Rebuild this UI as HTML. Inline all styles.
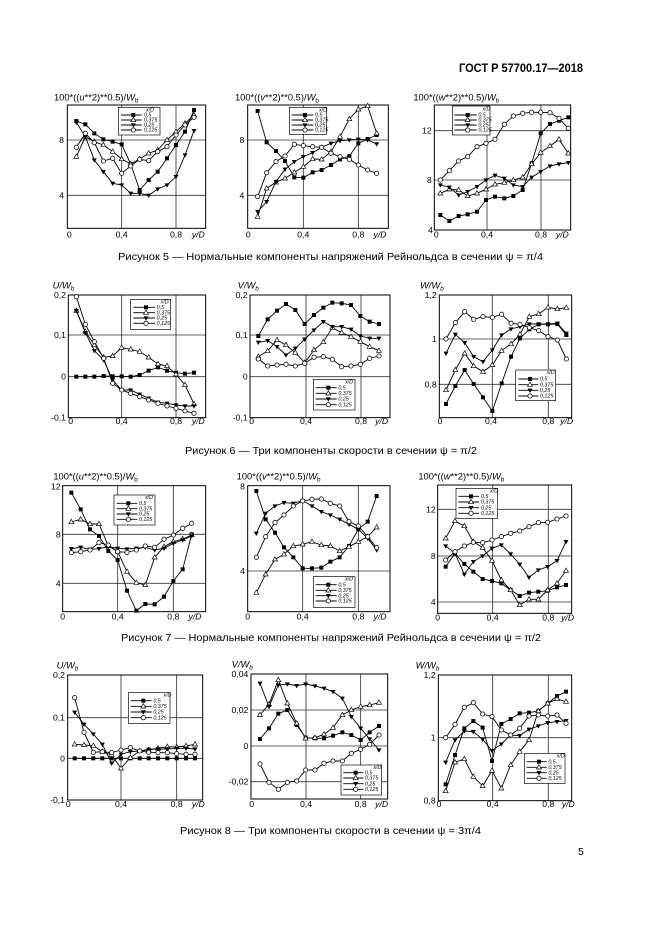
<!DOCTYPE html>
<html><head><meta charset="utf-8">
<style>
html,body{margin:0;padding:0;background:#fff;}
svg{display:block;}
text{font-family:"Liberation Sans",Arial,sans-serif;fill:#000;}
.t{font-size:26px;}
.ti{font-size:28px;}
.lg{font-size:16px;font-style:italic;}
.it{font-style:italic;}
.g{fill:none;stroke:#333;stroke-width:2.5;}
.b{fill:none;stroke:#000;stroke-width:3;}
.s{fill:none;stroke:#000;stroke-width:2.7;}
.lb{fill:#fff;stroke:#000;stroke-width:2;}
.ms{marker-start:url(#ms);marker-mid:url(#ms);marker-end:url(#ms);}
.mt{marker-start:url(#mt);marker-mid:url(#mt);marker-end:url(#mt);}
.mi{marker-start:url(#mi);marker-mid:url(#mi);marker-end:url(#mi);}
.mc{marker-start:url(#mc);marker-mid:url(#mc);marker-end:url(#mc);}
.ls{marker-mid:url(#ms);}
.lt{marker-mid:url(#mt);}
.li{marker-mid:url(#mi);}
.lc{marker-mid:url(#mc);}
</style></head>
<body>
<svg width="661" height="935" viewBox="0 0 661 935" xmlns="http://www.w3.org/2000/svg">
<defs>
<marker id="ms" markerUnits="userSpaceOnUse" markerWidth="14" markerHeight="14" refX="7" refY="7" overflow="visible"><rect x="1" y="1" width="12" height="12" fill="#000"/></marker>
<marker id="mt" markerUnits="userSpaceOnUse" markerWidth="14" markerHeight="14" refX="7" refY="8" overflow="visible"><path d="M7,0 L14.5,13 L-0.5,13 Z" fill="#fff" stroke="#000" stroke-width="2"/></marker>
<marker id="mi" markerUnits="userSpaceOnUse" markerWidth="14" markerHeight="14" refX="7" refY="6" overflow="visible"><path d="M-0.5,1 L14.5,1 L7,14 Z" fill="#000"/></marker>
<marker id="mc" markerUnits="userSpaceOnUse" markerWidth="14" markerHeight="14" refX="7" refY="7" overflow="visible"><circle cx="7" cy="7" r="6.5" fill="#fff" stroke="#000" stroke-width="2.2"/></marker>
</defs>
<rect width="661" height="935" fill="#fff"/>

<text x="583" y="72" text-anchor="end" font-weight="bold" font-size="11.5" textLength="124" lengthAdjust="spacingAndGlyphs">ГОСТ Р 57700.17—2018</text>

<!-- ================= Chart 1 ================= -->
<g transform="translate(40 90) scale(0.33333)">
<path class="g" d="M82 150H497M82 316H497M245 45V415M408 45V415"/>
<rect class="b" x="82" y="45" width="415" height="370"/>
<polyline class="s ms" points="109,93 136,103 163,130 190,148 218,155 245,163 272,222 299,300 326,270 353,245 381,205 408,165 435,125 462,60"/>
<polyline class="s mt" points="109,200 136,140 163,155 190,165 218,185 245,207 272,222 299,207 326,190 353,180 381,150 408,125 435,100 462,75"/>
<polyline class="s mi" points="109,97 136,140 163,210 190,245 218,280 245,285 272,310 299,310 326,316 353,297 381,285 408,260 435,195 462,122"/>
<polyline class="s mc" points="109,172 136,130 163,158 190,213 218,205 245,250 272,228 299,208 326,212 353,185 381,170 408,135 435,105 462,82"/>
<rect class="lb" x="235" y="52" width="125" height="83"/>
<text class="lg" x="318" y="64">x/D</text>
<polyline class="s ls" points="243,75 280,75 305,75"/><text class="lg" x="312" y="80">0,5</text>
<polyline class="s lt" points="243,90 280,90 305,90"/><text class="lg" x="312" y="95">0,375</text>
<polyline class="s li" points="243,105 280,105 305,105"/><text class="lg" x="312" y="110">0,25</text>
<polyline class="s lc" points="243,120 280,120 305,120"/><text class="lg" x="312" y="125">0,125</text>
<text class="ti" x="42" y="32">100*((<tspan class="it">u</tspan>**2)**0.5)/<tspan class="it">W</tspan><tspan font-size="19" dy="6">b</tspan></text>
<text class="t" x="72" y="159" text-anchor="end">8</text>
<text class="t" x="72" y="325" text-anchor="end">4</text>
<text class="t" x="88" y="442" text-anchor="middle">0</text>
<text class="t" x="245" y="442" text-anchor="middle">0,4</text>
<text class="t" x="408" y="442" text-anchor="middle">0,8</text>
<text class="t it" x="475" y="442" text-anchor="middle">y/D</text>
</g>

<!-- ================= Chart 2 ================= -->
<g transform="translate(225 90) scale(0.33333)">
<path class="g" d="M68 150H490M68 316H490M235 45V415M400 45V415"/>
<rect class="b" x="68" y="45" width="422" height="370"/>
<polyline class="s ms" points="98,63 125,157 153,183 180,213 208,262 235,263 263,247 290,240 318,225 345,208 373,198 400,160 428,147 455,135"/>
<polyline class="s mt" points="98,380 125,295 153,277 180,265 208,247 235,230 263,207 290,208 318,185 345,140 373,87 400,58 428,48 455,130"/>
<polyline class="s mi" points="98,365 125,335 153,275 180,238 208,215 235,200 263,188 290,172 318,160 345,152 373,150 400,148 428,150 455,162"/>
<polyline class="s mc" points="98,320 125,248 153,215 180,198 208,163 235,167 263,170 290,172 318,190 345,200 373,208 400,225 428,240 455,250"/>
<rect class="lb" x="193" y="52" width="112" height="81"/>
<text class="lg" x="282" y="64">x/D</text>
<polyline class="s ls" points="200,75 240,75 265,75"/><text class="lg" x="270" y="80">0,5</text>
<polyline class="s lt" points="200,90 240,90 265,90"/><text class="lg" x="270" y="95">0,375</text>
<polyline class="s li" points="200,105 240,105 265,105"/><text class="lg" x="270" y="110">0,25</text>
<polyline class="s lc" points="200,120 240,120 265,120"/><text class="lg" x="270" y="125">0,125</text>
<text class="ti" x="30" y="32">100*((<tspan class="it">v</tspan>**2)**0.5)/<tspan class="it">W</tspan><tspan font-size="19" dy="6">b</tspan></text>
<text class="t" x="58" y="159" text-anchor="end">8</text>
<text class="t" x="58" y="325" text-anchor="end">4</text>
<text class="t" x="70" y="442" text-anchor="middle">0</text>
<text class="t" x="235" y="442" text-anchor="middle">0,4</text>
<text class="t" x="400" y="442" text-anchor="middle">0,8</text>
<text class="t it" x="465" y="442" text-anchor="middle">y/D</text>
</g>

<!-- ================= Chart 3 ================= -->
<g transform="translate(405 90) scale(0.33333)">
<path class="g" d="M88 122H497M88 270H497M246 45V420M408 45V420"/>
<rect class="b" x="88" y="45" width="409" height="375"/>
<polyline class="s ms" points="106,375 133,393 161,378 188,373 216,365 243,330 270,320 298,325 325,318 353,300 380,220 407,130 435,102 462,92 490,82"/>
<polyline class="s mt" points="106,310 133,298 161,300 188,318 216,310 243,298 270,283 298,278 325,270 353,262 380,222 407,188 435,168 462,148 490,190"/>
<polyline class="s mi" points="106,285 133,292 161,315 188,305 216,290 243,270 270,256 298,265 325,285 353,290 380,262 407,245 435,228 462,222 490,218"/>
<polyline class="s mc" points="106,270 133,242 161,213 188,200 216,170 243,160 270,148 298,103 325,78 353,70 380,67 407,67 435,68 462,85 490,115"/>
<rect class="lb" x="142" y="48" width="113" height="87"/>
<text class="lg" x="232" y="62">x/D</text>
<polyline class="s ls" points="148,75 188,75 215,75"/><text class="lg" x="220" y="80">0,5</text>
<polyline class="s lt" points="148,90 188,90 215,90"/><text class="lg" x="220" y="95">0,375</text>
<polyline class="s li" points="148,105 188,105 215,105"/><text class="lg" x="220" y="110">0,25</text>
<polyline class="s lc" points="148,120 188,120 215,120"/><text class="lg" x="220" y="125">0,125</text>
<text class="ti" x="25" y="32">100*((<tspan class="it">w</tspan>**2)**0.5)/<tspan class="it">W</tspan><tspan font-size="19" dy="6">b</tspan></text>
<text class="t" x="80" y="131" text-anchor="end">12</text>
<text class="t" x="80" y="279" text-anchor="end">8</text>
<text class="t" x="84" y="429" text-anchor="end">4</text>
<text class="t" x="94" y="442" text-anchor="middle">0</text>
<text class="t" x="246" y="442" text-anchor="middle">0,4</text>
<text class="t" x="408" y="442" text-anchor="middle">0,8</text>
<text class="t it" x="472" y="442" text-anchor="middle">y/D</text>
</g>

<text x="118" y="260" font-size="10.5" textLength="425" lengthAdjust="spacingAndGlyphs">Рисунок 5 — Нормальные компоненты напряжений Рейнольдса в сечении ψ = π/4</text>

<!-- ================= Chart 4 ================= -->
<g transform="translate(40 280) scale(0.33333)">
<path class="g" d="M85 165H497M85 290H497M245 45V413M408 45V413"/>
<rect class="b" x="85" y="45" width="412" height="368"/>
<polyline class="s ms" points="109,290 136,290 163,290 191,288 218,289 245,289 272,290 299,285 326,272 354,262 381,272 408,278 435,281 462,278"/>
<polyline class="s mt" points="109,92 136,155 163,195 191,232 218,228 245,203 272,208 299,215 326,232 354,252 381,258 408,283 435,315 462,372"/>
<polyline class="s mi" points="109,92 136,158 163,212 191,240 218,300 245,330 272,330 299,343 326,355 354,367 381,370 408,375 435,378 462,378"/>
<polyline class="s mc" points="109,50 136,133 163,185 191,235 218,310 245,330 272,340 299,350 326,360 354,370 381,378 408,385 435,393 462,400"/>
<rect class="lb" x="272" y="58" width="120" height="90"/>
<text class="lg" x="362" y="70">x/D</text>
<polyline class="s ls" points="280,82 318,82 345,82"/><text class="lg" x="350" y="87">0,5</text>
<polyline class="s lt" points="280,98 318,98 345,98"/><text class="lg" x="350" y="103">0,375</text>
<polyline class="s li" points="280,114 318,114 345,114"/><text class="lg" x="350" y="119">0,25</text>
<polyline class="s lc" points="280,130 318,130 345,130"/><text class="lg" x="350" y="135">0,125</text>
<text class="ti it" x="38" y="25">U/W<tspan font-size="19" dy="6">b</tspan></text>
<text class="t" x="78" y="54" text-anchor="end">0,2</text>
<text class="t" x="78" y="174" text-anchor="end">0,1</text>
<text class="t" x="78" y="299" text-anchor="end">0</text>
<text class="t" x="78" y="422" text-anchor="end">-0,1</text>
<text class="t" x="92" y="432" text-anchor="middle">0</text>
<text class="t" x="245" y="432" text-anchor="middle">0,4</text>
<text class="t" x="408" y="432" text-anchor="middle">0,8</text>
<text class="t it" x="475" y="432" text-anchor="middle">y/D</text>
</g>

<!-- ================= Chart 5 ================= -->
<g transform="translate(225 280) scale(0.33333)">
<path class="g" d="M75 165H495M75 290H495M243 45V413M408 45V413"/>
<rect class="b" x="75" y="45" width="420" height="368"/>
<polyline class="s ms" points="100,168 128,118 156,92 183,72 211,90 239,132 267,105 295,83 322,68 350,70 378,75 406,108 434,125 462,132"/>
<polyline class="s mt" points="100,230 128,213 156,180 183,195 211,218 239,248 267,210 295,186 322,143 350,158 378,170 406,185 434,200 462,212"/>
<polyline class="s mi" points="100,187 128,182 156,200 183,225 211,205 239,178 267,150 295,125 322,140 350,140 378,148 406,168 434,175 462,175"/>
<polyline class="s mc" points="100,237 128,258 156,255 183,253 211,258 239,250 267,232 295,230 322,238 350,260 378,258 406,253 434,235 462,228"/>
<rect class="lb" x="265" y="298" width="125" height="92"/>
<text class="lg" x="360" y="310">x/D</text>
<polyline class="s ls" points="272,323 310,323 335,323"/><text class="lg" x="340" y="328">0,5</text>
<polyline class="s lt" points="272,340 310,340 335,340"/><text class="lg" x="340" y="345">0,375</text>
<polyline class="s li" points="272,357 310,357 335,357"/><text class="lg" x="340" y="362">0,25</text>
<polyline class="s lc" points="272,374 310,374 335,374"/><text class="lg" x="340" y="379">0,125</text>
<text class="ti it" x="38" y="25">V/W<tspan font-size="19" dy="6">b</tspan></text>
<text class="t" x="68" y="54" text-anchor="end">0,2</text>
<text class="t" x="68" y="174" text-anchor="end">0,1</text>
<text class="t" x="68" y="299" text-anchor="end">0</text>
<text class="t" x="68" y="422" text-anchor="end">-0,1</text>
<text class="t" x="80" y="432" text-anchor="middle">0</text>
<text class="t" x="243" y="432" text-anchor="middle">0,4</text>
<text class="t" x="408" y="432" text-anchor="middle">0,8</text>
<text class="t it" x="470" y="432" text-anchor="middle">y/D</text>
</g>

<!-- ================= Chart 6 ================= -->
<g transform="translate(405 280) scale(0.33333)">
<path class="g" d="M103 177H500M103 313H500M262 45V413M430 45V413"/>
<rect class="b" x="103" y="45" width="397" height="368"/>
<polyline class="s ms" points="123,372 151,318 179,270 206,312 234,352 262,393 290,310 318,230 345,175 373,148 401,133 429,133 457,132 484,165"/>
<polyline class="s mt" points="123,330 151,270 179,220 206,258 234,275 262,255 290,212 318,192 345,163 373,110 401,102 429,82 457,87 484,83"/>
<polyline class="s mi" points="123,220 151,163 179,188 206,230 234,245 262,210 290,165 318,147 345,140 373,132 401,132 429,132 457,130 484,160"/>
<polyline class="s mc" points="123,177 151,128 179,95 206,118 234,110 262,112 290,103 318,130 345,133 373,143 401,152 429,170 457,180 484,237"/>
<rect class="lb" x="332" y="270" width="120" height="92"/>
<text class="lg" x="425" y="282">x/D</text>
<polyline class="s ls" points="340,297 375,297 400,297"/><text class="lg" x="405" y="302">0,5</text>
<polyline class="s lt" points="340,314 375,314 400,314"/><text class="lg" x="405" y="319">0,375</text>
<polyline class="s li" points="340,331 375,331 400,331"/><text class="lg" x="405" y="336">0,25</text>
<polyline class="s lc" points="340,348 375,348 400,348"/><text class="lg" x="405" y="353">0,125</text>
<text class="ti it" x="45" y="25">W/W<tspan font-size="19" dy="6">b</tspan></text>
<text class="t" x="95" y="54" text-anchor="end">1,2</text>
<text class="t" x="95" y="186" text-anchor="end">1</text>
<text class="t" x="95" y="322" text-anchor="end">0,8</text>
<text class="t" x="105" y="432" text-anchor="middle">0</text>
<text class="t" x="258" y="432" text-anchor="middle">0,4</text>
<text class="t" x="430" y="432" text-anchor="middle">0,8</text>
<text class="t it" x="485" y="432" text-anchor="middle">y/D</text>
</g>

<text x="185" y="454" font-size="10.5" textLength="292" lengthAdjust="spacingAndGlyphs">Рисунок 6 — Три компоненты скорости в сечении ψ = π/2</text>

<!-- ================= Chart 7 ================= -->
<g transform="translate(40 470) scale(0.33333)">
<path class="g" d="M68 193H497M68 340H497M233 47V425M400 47V425"/>
<rect class="b" x="68" y="47" width="429" height="378"/>
<polyline class="s ms" points="94,68 122,118 150,178 177,198 205,243 233,270 261,362 289,422 316,402 344,403 372,380 400,333 428,298 455,193"/>
<polyline class="s mt" points="94,156 122,148 150,162 177,162 205,228 233,245 261,305 289,338 316,345 344,262 372,230 400,215 428,207 455,195"/>
<polyline class="s mi" points="94,236 122,232 150,238 177,236 205,230 233,235 261,237 289,235 316,232 344,240 372,235 400,220 428,210 455,198"/>
<polyline class="s mc" points="94,248 122,245 150,240 177,218 205,225 233,245 261,247 289,240 316,228 344,232 372,208 400,195 428,175 455,160"/>
<rect class="lb" x="222" y="75" width="123" height="90"/>
<text class="lg" x="315" y="87">x/D</text>
<polyline class="s ls" points="230,100 265,100 292,100"/><text class="lg" x="297" y="105">0,5</text>
<polyline class="s lt" points="230,116 265,116 292,116"/><text class="lg" x="297" y="121">0,375</text>
<polyline class="s li" points="230,132 265,132 292,132"/><text class="lg" x="297" y="137">0,25</text>
<polyline class="s lc" points="230,148 265,148 292,148"/><text class="lg" x="297" y="153">0,125</text>
<text class="ti" x="40" y="28">100*((<tspan class="it">u</tspan>**2)**0.5)/<tspan class="it">W</tspan><tspan font-size="19" dy="6">b</tspan></text>
<text class="t" x="62" y="59" text-anchor="end">12</text>
<text class="t" x="62" y="202" text-anchor="end">8</text>
<text class="t" x="62" y="349" text-anchor="end">4</text>
<text class="t" x="68" y="448" text-anchor="middle">0</text>
<text class="t" x="233" y="448" text-anchor="middle">0,4</text>
<text class="t" x="400" y="448" text-anchor="middle">0,8</text>
<text class="t it" x="465" y="448" text-anchor="middle">y/D</text>
</g>

<!-- ================= Chart 8 ================= -->
<g transform="translate(225 470) scale(0.33333)">
<path class="g" d="M68 303H495M233 47V425M400 47V425"/>
<rect class="b" x="68" y="47" width="427" height="378"/>
<polyline class="s ms" points="94,63 122,148 150,188 177,232 205,262 233,295 261,295 289,293 316,275 344,262 372,228 400,178 428,155 455,78"/>
<polyline class="s mt" points="94,368 122,313 150,268 177,253 205,228 233,223 261,215 289,225 316,228 344,243 372,230 400,215 428,200 455,172"/>
<polyline class="s mi" points="94,190 122,130 150,108 177,98 205,100 233,92 261,108 289,125 316,135 344,148 372,163 400,178 428,205 455,240"/>
<polyline class="s mc" points="94,262 122,200 150,158 177,135 205,108 233,93 261,88 289,87 316,100 344,108 372,155 400,168 428,200 455,233"/>
<rect class="lb" x="265" y="320" width="125" height="92"/>
<text class="lg" x="360" y="332">x/D</text>
<polyline class="s ls" points="272,344 310,344 335,344"/><text class="lg" x="340" y="349">0,5</text>
<polyline class="s lt" points="272,361 310,361 335,361"/><text class="lg" x="340" y="366">0,375</text>
<polyline class="s li" points="272,377 310,377 335,377"/><text class="lg" x="340" y="382">0,25</text>
<polyline class="s lc" points="272,393 310,393 335,393"/><text class="lg" x="340" y="398">0,125</text>
<text class="ti" x="35" y="28">100*((<tspan class="it">v</tspan>**2)**0.5)/<tspan class="it">W</tspan><tspan font-size="19" dy="6">b</tspan></text>
<text class="t" x="60" y="59" text-anchor="end">8</text>
<text class="t" x="60" y="312" text-anchor="end">4</text>
<text class="t" x="68" y="448" text-anchor="middle">0</text>
<text class="t" x="233" y="448" text-anchor="middle">0,4</text>
<text class="t" x="400" y="448" text-anchor="middle">0,8</text>
<text class="t it" x="465" y="448" text-anchor="middle">y/D</text>
</g>

<!-- ================= Chart 9 ================= -->
<g transform="translate(405 470) scale(0.33333)">
<path class="g" d="M98 118H500M98 258H500M98 396H500M263 45V430M430 45V430"/>
<rect class="b" x="98" y="45" width="402" height="385"/>
<polyline class="s ms" points="122,290 150,250 178,282 205,305 233,327 261,333 289,340 317,360 344,378 372,368 400,365 428,362 456,352 483,345"/>
<polyline class="s mt" points="122,205 150,153 178,168 205,215 233,233 261,272 289,330 317,360 344,405 372,388 400,388 428,360 456,340 483,302"/>
<polyline class="s mi" points="122,228 150,250 178,313 205,275 233,258 261,235 289,225 317,252 344,283 372,322 400,300 428,290 456,272 483,215"/>
<polyline class="s mc" points="122,270 150,245 178,228 205,217 233,218 261,210 289,200 317,190 344,183 372,170 400,158 428,157 456,147 483,138"/>
<rect class="lb" x="153" y="55" width="125" height="90"/>
<text class="lg" x="255" y="67">x/D</text>
<polyline class="s ls" points="160,79 198,79 222,79"/><text class="lg" x="228" y="84">0,5</text>
<polyline class="s lt" points="160,96 198,96 222,96"/><text class="lg" x="228" y="101">0,375</text>
<polyline class="s li" points="160,113 198,113 222,113"/><text class="lg" x="228" y="118">0,25</text>
<polyline class="s lc" points="160,130 198,130 222,130"/><text class="lg" x="228" y="135">0,125</text>
<text class="ti" x="40" y="28">100*((<tspan class="it">w</tspan>**2)**0.5)/<tspan class="it">W</tspan><tspan font-size="19" dy="6">b</tspan></text>
<text class="t" x="92" y="127" text-anchor="end">12</text>
<text class="t" x="92" y="267" text-anchor="end">8</text>
<text class="t" x="92" y="405" text-anchor="end">4</text>
<text class="t" x="98" y="452" text-anchor="middle">0</text>
<text class="t" x="263" y="452" text-anchor="middle">0,4</text>
<text class="t" x="430" y="452" text-anchor="middle">0,8</text>
<text class="t it" x="488" y="452" text-anchor="middle">y/D</text>
</g>

<text x="121" y="641" font-size="10.5" textLength="420" lengthAdjust="spacingAndGlyphs">Рисунок 7 — Нормальные компоненты напряжений Рейнольдса в сечении ψ = π/2</text>

<!-- ================= Chart 10 ================= -->
<g transform="translate(30 655) scale(0.33333)">
<path class="g" d="M113 188H518M113 310H518M273 60V435M440 60V435"/>
<rect class="b" x="113" y="60" width="405" height="375"/>
<polyline class="s ms" points="134,310 162,310 190,310 217,310 245,310 273,310 301,310 329,310 356,310 384,310 412,310 440,310 468,310 495,310"/>
<polyline class="s mt" points="134,268 162,270 190,272 217,290 245,300 273,340 301,308 329,288 356,285 384,280 412,275 440,276 468,273 495,268"/>
<polyline class="s mi" points="134,172 162,208 190,237 217,268 245,325 273,298 301,290 329,288 356,283 384,282 412,282 440,280 468,280 495,282"/>
<polyline class="s mc" points="134,128 162,232 190,292 217,290 245,293 273,285 301,278 329,288 356,292 384,293 412,293 440,296 468,298 495,298"/>
<rect class="lb" x="295" y="113" width="125" height="92"/>
<text class="lg" x="400" y="125">x/D</text>
<polyline class="s ls" points="302,137 340,137 365,137"/><text class="lg" x="370" y="142">0,5</text>
<polyline class="s lt" points="302,154 340,154 365,154"/><text class="lg" x="370" y="159">0,375</text>
<polyline class="s li" points="302,171 340,171 365,171"/><text class="lg" x="370" y="176">0,25</text>
<polyline class="s lc" points="302,188 340,188 365,188"/><text class="lg" x="370" y="193">0,125</text>
<text class="ti it" x="80" y="40">U/W<tspan font-size="19" dy="6">b</tspan></text>
<text class="t" x="105" y="69" text-anchor="end">0,2</text>
<text class="t" x="105" y="197" text-anchor="end">0,1</text>
<text class="t" x="105" y="319" text-anchor="end">0</text>
<text class="t" x="105" y="444" text-anchor="end">-0,1</text>
<text class="t" x="115" y="456" text-anchor="middle">0</text>
<text class="t" x="273" y="456" text-anchor="middle">0,4</text>
<text class="t" x="440" y="456" text-anchor="middle">0,8</text>
<text class="t it" x="505" y="456" text-anchor="middle">y/D</text>
</g>

<!-- ================= Chart 11 ================= -->
<g transform="translate(215 655) scale(0.33333)">
<path class="g" d="M108 165H518M108 273H518M108 380H518M273 57V432M437 57V432"/>
<rect class="b" x="108" y="57" width="410" height="375"/>
<polyline class="s ms" points="135,252 162,220 190,176 217,165 245,210 272,248 300,250 327,250 354,242 382,232 409,240 437,255 464,232 492,213"/>
<polyline class="s mt" points="135,180 162,148 190,75 217,145 245,205 272,250 300,248 327,238 354,218 382,180 409,165 437,155 464,150 492,143"/>
<polyline class="s mi" points="135,85 162,155 190,90 217,87 245,92 272,87 300,93 327,100 354,110 382,130 409,185 437,220 464,252 492,285"/>
<polyline class="s mc" points="135,327 162,382 190,403 217,382 245,378 272,345 300,345 327,325 354,318 382,318 409,295 437,283 464,268 492,240"/>
<rect class="lb" x="378" y="330" width="122" height="90"/>
<text class="lg" x="475" y="342">x/D</text>
<polyline class="s ls" points="385,353 422,353 445,353"/><text class="lg" x="450" y="358">0,5</text>
<polyline class="s lt" points="385,369 422,369 445,369"/><text class="lg" x="450" y="374">0,375</text>
<polyline class="s li" points="385,386 422,386 445,386"/><text class="lg" x="450" y="391">0,25</text>
<polyline class="s lc" points="385,403 422,403 445,403"/><text class="lg" x="450" y="408">0,125</text>
<text class="ti it" x="50" y="38">V/W<tspan font-size="19" dy="6">b</tspan></text>
<text class="t" x="100" y="66" text-anchor="end">0,04</text>
<text class="t" x="100" y="174" text-anchor="end">0,02</text>
<text class="t" x="100" y="282" text-anchor="end">0</text>
<text class="t" x="100" y="389" text-anchor="end">-0,02</text>
<text class="t" x="110" y="456" text-anchor="middle">0</text>
<text class="t" x="273" y="456" text-anchor="middle">0,4</text>
<text class="t" x="437" y="456" text-anchor="middle">0,8</text>
<text class="t it" x="500" y="456" text-anchor="middle">y/D</text>
</g>

<!-- ================= Chart 12 ================= -->
<g transform="translate(395 655) scale(0.33333)">
<path class="g" d="M130 248H530M293 60V437M460 60V437"/>
<rect class="b" x="130" y="60" width="400" height="377"/>
<polyline class="s ms" points="152,388 180,300 208,220 235,198 263,218 291,318 319,207 347,192 374,175 402,173 430,168 458,145 486,123 513,110"/>
<polyline class="s mt" points="152,408 180,322 208,312 235,365 263,393 291,347 319,400 347,330 374,290 402,255 430,168 458,145 486,132 513,140"/>
<polyline class="s mi" points="152,322 180,255 208,228 235,230 263,253 291,287 319,267 347,240 374,242 402,223 430,213 458,203 486,200 513,197"/>
<polyline class="s mc" points="152,248 180,208 208,157 235,143 263,177 291,185 319,225 347,240 374,220 402,183 430,180 458,183 486,180 513,205"/>
<rect class="lb" x="388" y="295" width="122" height="90"/>
<text class="lg" x="485" y="307">x/D</text>
<polyline class="s ls" points="395,320 432,320 455,320"/><text class="lg" x="460" y="325">0,5</text>
<polyline class="s lt" points="395,337 432,337 455,337"/><text class="lg" x="460" y="342">0,375</text>
<polyline class="s li" points="395,353 432,353 455,353"/><text class="lg" x="460" y="358">0,25</text>
<polyline class="s lc" points="395,370 432,370 455,370"/><text class="lg" x="460" y="375">0,125</text>
<text class="ti it" x="62" y="40">W/W<tspan font-size="19" dy="6">b</tspan></text>
<text class="t" x="122" y="69" text-anchor="end">1,2</text>
<text class="t" x="122" y="257" text-anchor="end">1</text>
<text class="t" x="122" y="446" text-anchor="end">0,8</text>
<text class="t" x="132" y="456" text-anchor="middle">0</text>
<text class="t" x="293" y="456" text-anchor="middle">0,4</text>
<text class="t" x="460" y="456" text-anchor="middle">0,8</text>
<text class="t it" x="520" y="456" text-anchor="middle">y/D</text>
</g>

<text x="180" y="834" font-size="10.5" textLength="301" lengthAdjust="spacingAndGlyphs">Рисунок 8 — Три компоненты скорости в сечении ψ = 3π/4</text>

<text x="578" y="855" font-size="10.5">5</text>
</svg>
</body></html>
